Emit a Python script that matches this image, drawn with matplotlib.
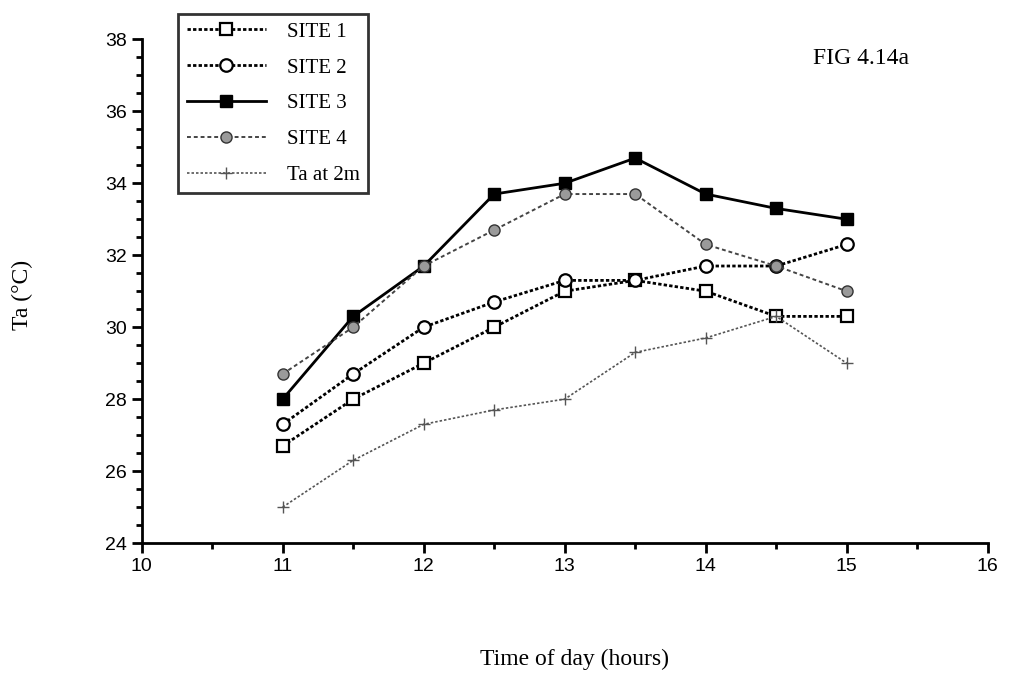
import matplotlib.pyplot as plt
from matplotlib.ticker import MultipleLocator

# hourly readings, 11:00 to 15:00
hours = [11, 11.5, 12, 12.5, 13, 13.5, 14, 14.5, 15]
site1 = [26.7, 28.0, 29.0, 30.0, 31.0, 31.3, 31.0, 30.3, 30.3]
site2 = [27.3, 28.7, 30.0, 30.7, 31.3, 31.3, 31.7, 31.7, 32.3]
site3 = [28.0, 30.3, 31.7, 33.7, 34.0, 34.7, 33.7, 33.3, 33.0]
site4 = [28.7, 30.0, 31.7, 32.7, 33.7, 33.7, 32.3, 31.7, 31.0]
ta_2m = [25.0, 26.3, 27.3, 27.7, 28.0, 29.3, 29.7, 30.3, 29.0]

serif = 'Liberation Serif'
sans = 'Liberation Sans'

fig = plt.figure(figsize=(10.12, 6.78), dpi=100)
ax = fig.add_axes([0.140, 0.199, 0.836, 0.743])

ax.plot(hours, site1, linestyle=(0, (1.2, 0.8)), color='black', linewidth=2.0,
        marker='s', markersize=9, markerfacecolor='white', markeredgewidth=1.6,
        label='SITE 1')
ax.plot(hours, site2, linestyle=(0, (1.2, 0.8)), color='black', linewidth=2.0,
        marker='o', markersize=9, markerfacecolor='white', markeredgewidth=1.6,
        label='SITE 2')
ax.plot(hours, site3, linestyle='-', color='black', linewidth=2.0,
        marker='s', markersize=9, markerfacecolor='black',
        label='SITE 3')
ax.plot(hours, site4, linestyle=(0, (2, 1.5)), color='#444444', linewidth=1.4,
        marker='o', markersize=8, markerfacecolor='#9a9a9a', markeredgecolor='#333333',
        markeredgewidth=1.0, label='SITE 4')
ax.plot(hours, ta_2m, linestyle=(0, (1.5, 1.2)), color='#555555', linewidth=1.2,
        marker='+', markersize=9, markeredgewidth=1.0, markeredgecolor='#555555',
        label='Ta at 2m')

ax.set_xlim(10, 16)
ax.set_ylim(24, 38)
ax.xaxis.set_major_locator(MultipleLocator(1))
ax.xaxis.set_minor_locator(MultipleLocator(0.5))
ax.yaxis.set_major_locator(MultipleLocator(2))
ax.yaxis.set_minor_locator(MultipleLocator(0.5))

for side in ['top', 'right']:
    ax.spines[side].set_visible(False)
for side in ['left', 'bottom']:
    ax.spines[side].set_linewidth(2.0)

ax.tick_params(which='major', direction='out', length=7, width=2, labelsize=14)
ax.tick_params(which='minor', direction='out', length=4, width=2)
for lbl in ax.get_xticklabels() + ax.get_yticklabels():
    lbl.set_fontfamily(sans)

fig.text(0.022, 0.565, 'Ta (°C)', fontfamily=serif, fontsize=17,
         rotation=90, ha='center', va='center')
fig.text(0.568, 0.027, 'Time of day (hours)', fontfamily=serif, fontsize=17,
         ha='center', va='center')
fig.text(0.803, 0.914, 'FIG 4.14a', fontfamily=serif, fontsize=17,
         ha='left', va='center')

leg = fig.legend(loc='upper left', bbox_to_anchor=(0.166, 0.995),
                 prop={'family': serif, 'size': 15}, frameon=True,
                 fancybox=False, edgecolor='black', handlelength=3.8,
                 labelspacing=0.78, borderpad=0.4, handletextpad=1.0)
leg.get_frame().set_linewidth(2.0)

fig.savefig('out.png', dpi=100)
